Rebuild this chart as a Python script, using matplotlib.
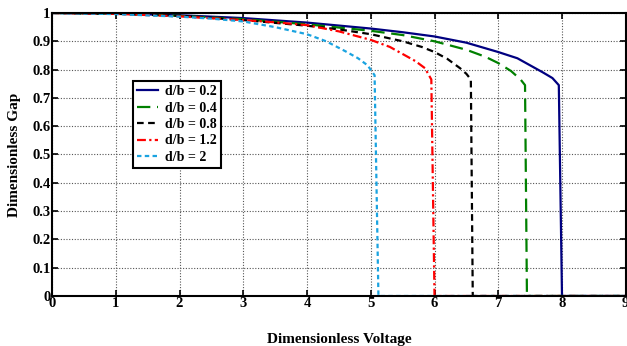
import matplotlib
matplotlib.use("Agg")
import matplotlib.pyplot as plt

# values (voltage, gap) for each d/b ratio
labels = ['d/b = 0.2', 'd/b = 0.4', 'd/b = 0.8', 'd/b = 1.2', 'd/b = 2']

v_02 = [0, 1, 2, 3, 4, 5, 5.5, 6, 6.5, 7, 7.3, 7.5, 7.7, 7.85, 7.95, 8.0, 9]
g_02 = [1, 0.998, 0.992, 0.982, 0.966, 0.945, 0.932, 0.917, 0.895, 0.862, 0.84, 0.815, 0.79, 0.77, 0.745, 0, 0]

v_04 = [0, 1, 2, 3, 4, 5, 5.5, 6, 6.5, 6.8, 7.0, 7.2, 7.35, 7.42, 7.45, 9]
g_04 = [1, 0.998, 0.99, 0.978, 0.96, 0.937, 0.922, 0.9, 0.87, 0.845, 0.823, 0.795, 0.765, 0.745, 0, 0]

v_08 = [0, 1, 2, 3, 4, 4.5, 5, 5.5, 5.8, 6.0, 6.2, 6.4, 6.5, 6.57, 6.6, 9]
g_08 = [1, 0.997, 0.99, 0.975, 0.955, 0.942, 0.925, 0.9, 0.88, 0.862, 0.838, 0.805, 0.785, 0.765, 0, 0]

v_12 = [0, 1, 2, 3, 3.5, 4, 4.5, 5, 5.3, 5.5, 5.7, 5.85, 5.95, 6.0, 9]
g_12 = [1, 0.997, 0.988, 0.975, 0.967, 0.957, 0.935, 0.905, 0.88, 0.855, 0.83, 0.805, 0.765, 0, 0]

v_2 = [0, 1, 2, 2.5, 3, 3.5, 4, 4.3, 4.6, 4.8, 4.95, 5.06, 5.12, 9]
g_2 = [1, 0.996, 0.987, 0.98, 0.97, 0.95, 0.925, 0.9, 0.865, 0.84, 0.815, 0.78, 0, 0]

series = [(v_02, g_02), (v_04, g_04), (v_08, g_08), (v_12, g_12), (v_2, g_2)]
colors = ['#000080', '#008000', '#000000', '#ff0000', '#1aa3e0']
styles = ['-', (0, (6, 3)), (0, (3, 2)), (0, (4, 1.5, 1, 1.5)), (0, (2, 1.5))]

plt.rcParams['font.family'] = 'Liberation Serif'
plt.rcParams['font.weight'] = 'bold'

fig = plt.figure(figsize=(6.27, 3.46), dpi=100)
ax = fig.add_axes([0.083, 0.1445, 0.915, 0.818])

for (v, g), c, ls, lab in zip(series, colors, styles, labels):
    ax.plot(v, g, color=c, linestyle=ls, lw=1.6, label=lab)

ax.set_xlim(0, 9)
ax.set_ylim(0, 1)
ax.set_xticks(range(10))
ax.set_yticks([i / 10 for i in range(11)])
ax.set_yticklabels(['0'] + ['0.%d' % i for i in range(1, 10)] + ['1'])
ax.grid(True, linestyle=(0, (1, 1.5)), color='#555555', lw=0.8)
ax.tick_params(direction='in', top=True, right=True, length=4, width=1.2,
               labelsize=10.5, pad=1)
for s in ax.spines.values():
    s.set_linewidth(1.5)

ax.set_xlabel('Dimensionless Voltage', fontsize=11, fontweight='bold', labelpad=16)
ax.set_ylabel('Dimensionless Gap', fontsize=11, fontweight='bold', labelpad=8)

leg = ax.legend(loc='upper left', bbox_to_anchor=(0.141, 0.76), borderaxespad=0,
                fancybox=False, edgecolor='black', framealpha=1, fontsize=10,
                handlelength=1.5, handletextpad=0.5, labelspacing=0.25,
                borderpad=0.3)
leg.get_frame().set_linewidth(1.5)

fig.savefig('out.png', dpi=100)
